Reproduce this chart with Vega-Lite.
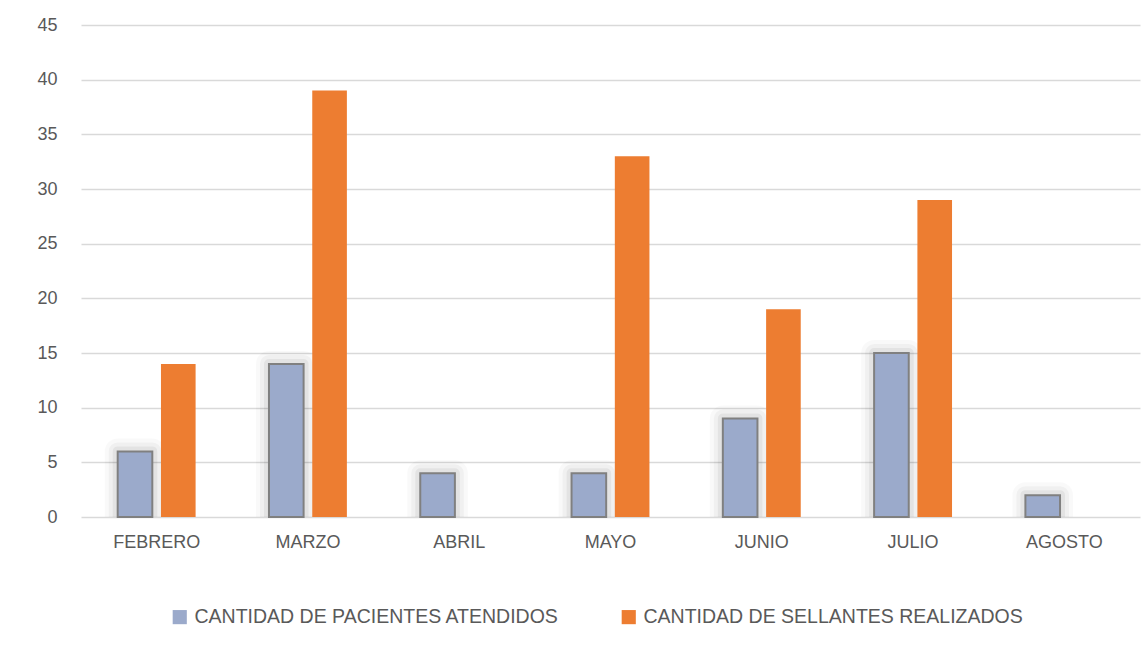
{
  "$schema": "https://vega.github.io/schema/vega-lite/v6.json",
  "width": 1059,
  "height": 492,
  "autosize": "none",
  "padding": {"left": 81, "top": 25, "right": 8, "bottom": 130},
  "background": "white",
  "config": {
    "view": {"stroke": null},
    "font": "Liberation Sans",
    "axis": {"labelFont": "Liberation Sans", "labelColor": "#595959", "labelFontSize": 18},
    "legend": {"labelFont": "Liberation Sans", "labelColor": "#595959", "labelFontSize": 19.5}
  },
  "data": {
    "values": [
      {"mes": "FEBRERO", "serie": "CANTIDAD DE PACIENTES ATENDIDOS", "valor": 6},
      {"mes": "MARZO", "serie": "CANTIDAD DE PACIENTES ATENDIDOS", "valor": 14},
      {"mes": "ABRIL", "serie": "CANTIDAD DE PACIENTES ATENDIDOS", "valor": 4},
      {"mes": "MAYO", "serie": "CANTIDAD DE PACIENTES ATENDIDOS", "valor": 4},
      {"mes": "JUNIO", "serie": "CANTIDAD DE PACIENTES ATENDIDOS", "valor": 9},
      {"mes": "JULIO", "serie": "CANTIDAD DE PACIENTES ATENDIDOS", "valor": 15},
      {"mes": "AGOSTO", "serie": "CANTIDAD DE PACIENTES ATENDIDOS", "valor": 2},
      {"mes": "FEBRERO", "serie": "CANTIDAD DE SELLANTES REALIZADOS", "valor": 14},
      {"mes": "MARZO", "serie": "CANTIDAD DE SELLANTES REALIZADOS", "valor": 39},
      {"mes": "ABRIL", "serie": "CANTIDAD DE SELLANTES REALIZADOS", "valor": 0},
      {"mes": "MAYO", "serie": "CANTIDAD DE SELLANTES REALIZADOS", "valor": 33},
      {"mes": "JUNIO", "serie": "CANTIDAD DE SELLANTES REALIZADOS", "valor": 19},
      {"mes": "JULIO", "serie": "CANTIDAD DE SELLANTES REALIZADOS", "valor": 29},
      {"mes": "AGOSTO", "serie": "CANTIDAD DE SELLANTES REALIZADOS", "valor": 0}
    ]
  },
  "encoding": {
    "x": {
      "field": "mes", "type": "nominal",
      "sort": ["FEBRERO", "MARZO", "ABRIL", "MAYO", "JUNIO", "JULIO", "AGOSTO"],
      "scale": {"paddingInner": 0.485, "paddingOuter": 0.2425},
      "axis": {"title": null, "labelAngle": 0, "domain": false, "ticks": false, "labelPadding": 16}
    },
    "xOffset": {
      "field": "serie", "type": "nominal",
      "scale": {"domain": ["CANTIDAD DE PACIENTES ATENDIDOS", "CANTIDAD DE SELLANTES REALIZADOS"], "paddingInner": 0.2, "paddingOuter": 0}
    },
    "y": {
      "field": "valor", "type": "quantitative",
      "scale": {"domain": [0, 45], "nice": false},
      "axis": {"title": null, "values": [0, 5, 10, 15, 20, 25, 30, 35, 40, 45], "domain": false, "ticks": false, "labelPadding": 24, "gridColor": "#d9d9d9", "gridWidth": 1.5}
    }
  },
  "layer": [
    {
      "transform": [{"filter": "datum.serie == 'CANTIDAD DE PACIENTES ATENDIDOS'"}],
      "mark": {"type": "bar", "clip": true, "fill": "#000000", "fillOpacity": 0.02, "stroke": "#000000", "strokeWidth": 26, "strokeOpacity": 0.025, "strokeJoin": "round"}
    },
    {
      "transform": [{"filter": "datum.serie == 'CANTIDAD DE PACIENTES ATENDIDOS'"}],
      "mark": {"type": "bar", "clip": true, "fill": "#000000", "fillOpacity": 0.02, "stroke": "#000000", "strokeWidth": 18, "strokeOpacity": 0.035, "strokeJoin": "round"}
    },
    {
      "transform": [{"filter": "datum.serie == 'CANTIDAD DE PACIENTES ATENDIDOS'"}],
      "mark": {"type": "bar", "clip": true, "fill": "#000000", "fillOpacity": 0.02, "stroke": "#000000", "strokeWidth": 10, "strokeOpacity": 0.05, "strokeJoin": "round"}
    },
    {
      "mark": {"type": "bar"},
      "encoding": {
        "color": {
          "field": "serie", "type": "nominal",
          "scale": {"domain": ["CANTIDAD DE PACIENTES ATENDIDOS", "CANTIDAD DE SELLANTES REALIZADOS"], "range": ["#9BAACB", "#ED7D31"]},
          "legend": {
            "title": null, "orient": "none", "legendX": 89, "legendY": 582, "direction": "horizontal",
            "symbolType": "square", "symbolSize": 200, "symbolOpacity": 1, "columnPadding": 60, "labelOffset": 5, "labelLimit": 500,
            "encode": {
              "symbols": {
                "update": {
                  "fill": [{"test": "datum.value === 'CANTIDAD DE PACIENTES ATENDIDOS'", "value": "#B4C7E7"}, {"value": "#ED7D31"}],
                  "stroke": [{"test": "datum.value === 'CANTIDAD DE PACIENTES ATENDIDOS'", "value": "#808080"}, {"value": "#ED7D31"}],
                  "strokeWidth": {"value": 1.5}
                }
              }
            }
          }
        },
        "stroke": {
          "condition": {"test": "datum.serie == 'CANTIDAD DE PACIENTES ATENDIDOS'", "value": "#808080"},
          "value": null
        },
        "strokeWidth": {"value": 2}
      }
    }
  ]
}
